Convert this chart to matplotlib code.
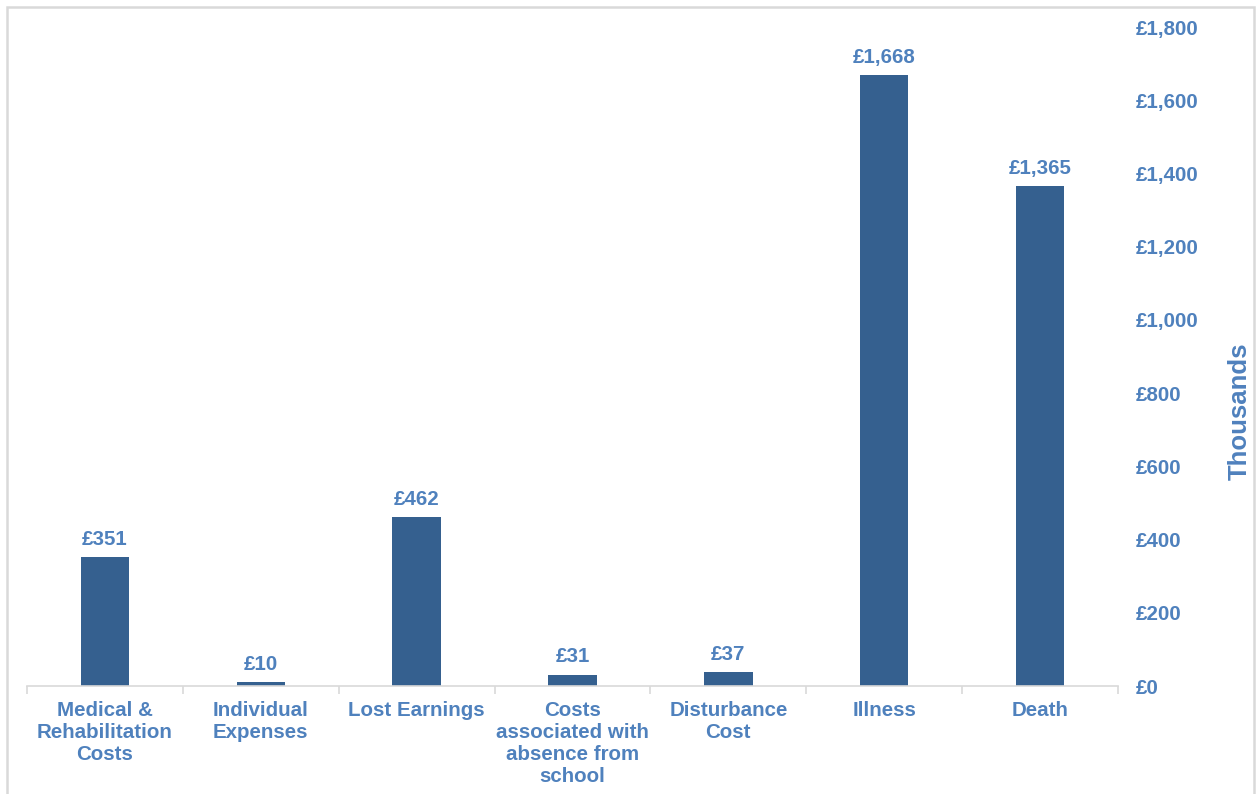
import matplotlib.pyplot as plt
from matplotlib.patches import Rectangle
from matplotlib.ticker import FuncFormatter

plt.rcParams['font.family'] = ['Liberation Sans', 'DejaVu Sans']

categories = ['Medical &\nRehabilitation\nCosts', 'Individual\nExpenses', 'Lost Earnings',
              'Costs\nassociated with\nabsence from\nschool', 'Disturbance\nCost', 'Illness', 'Death']
values = [351, 10, 462, 31, 37, 1668, 1365]
y_ticks = list(range(0, 1801, 200))

bar_color = '#35608F'
text_color = '#4F81BD'
fs = 14.8

fig = plt.figure(figsize=(12.57, 7.94), dpi=100)
ax = fig.add_axes([27 / 1257, 1 - 686 / 794, (1118 - 27) / 1257, (686 - 27) / 794])

x = range(len(categories))
ax.bar(x, values, width=0.31, color=bar_color, zorder=2)

for xi, v in zip(x, values):
    ax.annotate(f'£{v:,}', (xi, v), xytext=(0, 6), textcoords='offset points',
                ha='center', va='bottom', color=text_color, fontsize=fs, fontweight='bold')

ax.set_xlim(-0.5, len(categories) - 0.5)
ax.set_ylim(0, 1800)

# value axis on the right
ax.yaxis.tick_right()
ax.yaxis.set_label_position('right')
ax.set_yticks(y_ticks)
ax.yaxis.set_major_formatter(FuncFormatter(lambda v, p: f'£{int(v):,}'))
ax.tick_params(axis='y', length=0, pad=13, labelsize=fs, labelcolor=text_color)
for lbl in ax.get_yticklabels():
    lbl.set_fontweight('bold')
ax.set_ylabel('Thousands', fontsize=18.5, fontweight='bold', color=text_color)
ax.yaxis.label.set_va('center')
ax.yaxis.label.set_ha('center')
ax.yaxis.set_label_coords(1.112, 0.417)

# category labels in the middle, tick marks between categories
ax.set_xticks(list(x))
ax.set_xticklabels(categories, fontsize=fs, fontweight='bold', color=text_color,
                   linespacing=1.2, va='top')
ax.tick_params(axis='x', which='major', length=0, pad=10.5)
ax.set_xticks([i - 0.5 for i in range(len(categories) + 1)], minor=True)
ax.tick_params(axis='x', which='minor', length=6, color='#D9D9D9', width=1.2)

for side in ['top', 'left', 'right']:
    ax.spines[side].set_visible(False)
ax.spines['bottom'].set_color('#D9D9D9')
ax.spines['bottom'].set_linewidth(1.2)

# chart area frame
fig.patches.append(Rectangle((7 / 1257, -0.05), (1254 - 7) / 1257, 1.05 - 7 / 794,
                             transform=fig.transFigure, fill=False,
                             edgecolor='#D9D9D9', linewidth=1.8))

fig.savefig('out.png', dpi=100)
